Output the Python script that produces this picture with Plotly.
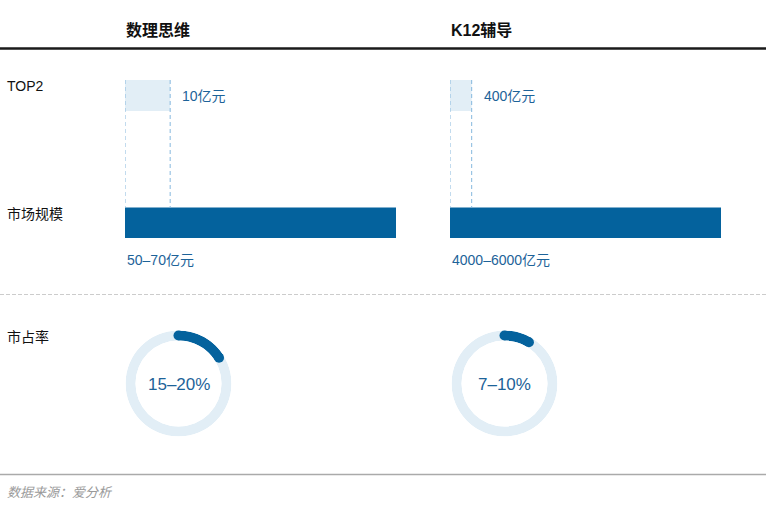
import plotly.graph_objects as go

# ---------------- data ----------------
segments = ["数理思维", "K12辅导"]
row_labels = ["TOP2", "市场规模", "市占率"]
top2_revenue = [10, 400]            # 亿元
market_low = [50, 4000]             # 亿元
market_high = [70, 6000]            # 亿元
share_low = [15, 7]                 # %
share_high = [20, 10]               # %
share_arc = [16, 8.5]               # % drawn on the ring
source_text = "数据来源：爱分析"

# ---------------- style ----------------
W, H = 766, 527
DARK = "#04629d"
LIGHT = "#e2eef6"
TXT_BLUE = "#1d6399"
DASH_BLUE = "#86b8de"
FONT = "Liberation Sans, Noto Sans CJK SC, sans-serif"

col_left = [125, 450]      # px
bar_len = 271              # px of market bar
bar_top, bar_bottom = 80, 238


def px_x(p):
    return p / W


def px_y(p):
    return 1 - p / H


fig = go.Figure()

cat_order = ["TOP2", "市场规模"]
unit = 127.5
r0 = -15.5 / unit
r1 = r0 + (bar_bottom - bar_top) / unit
bw = 31 / unit

annotations = []
shapes = []

for i, seg in enumerate(segments):
    ax = "" if i == 0 else str(i + 1)
    mid = (market_low[i] + market_high[i]) / 2
    fig.add_trace(go.Bar(
        x=[top2_revenue[i], mid], y=cat_order, orientation="h",
        marker=dict(color=[LIGHT, DARK], line=dict(width=0)),
        width=bw, xaxis="x" + ax, yaxis="y" + ax, hoverinfo="skip",
        showlegend=False,
    ))
    fig.update_layout(**{
        "xaxis" + ax: dict(domain=[px_x(col_left[i]), px_x(col_left[i] + bar_len)],
                           range=[0, mid], visible=False, fixedrange=True,
                           anchor="y" + ax),
        "yaxis" + ax: dict(domain=[px_y(bar_bottom), px_y(bar_top)],
                           type="category", categoryarray=cat_order,
                           range=[r1, r0], visible=False, fixedrange=True,
                           anchor="x" + ax),
    })
    # dashed guide lines
    for xv in (0, top2_revenue[i]):
        shapes.append(dict(type="line", xref="x" + ax, yref="y" + ax,
                           x0=xv, x1=xv, y0=r0, y1=1 - bw / 2,
                           line=dict(color=DASH_BLUE, width=1, dash="4px,3px")))
    annotations.append(dict(xref="x" + ax, yref="y" + ax, x=top2_revenue[i], y=0,
                            xshift=10, text=f"{top2_revenue[i]}亿元", showarrow=False,
                            xanchor="left", yanchor="middle",
                            font=dict(size=14, color=TXT_BLUE, family=FONT)))
    annotations.append(dict(xref="x" + ax, yref="y" + ax, x=0, y=1, yshift=-37,
                            text=f"{market_low[i]}–{market_high[i]}亿元",
                            showarrow=False, xanchor="left", yanchor="middle",
                            font=dict(size=14, color=TXT_BLUE, family=FONT)))
    # header
    annotations.append(dict(xref="paper", yref="paper", x=px_x(col_left[i] - 1), y=px_y(30),
                            text=f"<b>{seg}</b>", showarrow=False, xanchor="left",
                            yanchor="middle", font=dict(size=16, color="#111", family=FONT)))

    # donut
    pol = "polar" if i == 0 else "polar2"
    cx = [178.5, 504.5][i]
    cy = 383.5
    R = 53
    fig.add_trace(go.Barpolar(r=[1], base=[0], theta=[180], width=[360],
                              marker=dict(color=LIGHT, line=dict(width=0)),
                              subplot=pol, hoverinfo="skip", showlegend=False))
    arc = share_arc[i] * 3.6
    fig.add_trace(go.Barpolar(r=[1], base=[0], theta=[arc / 2], width=[arc],
                              marker=dict(color=DARK, line=dict(width=0)),
                              subplot=pol, hoverinfo="skip", showlegend=False))
    fig.add_trace(go.Scatterpolar(r=[0.5, 0.5], theta=[0, arc], mode="markers",
                                  marker=dict(color=DARK, size=10, line=dict(width=0)),
                                  subplot=pol, hoverinfo="skip", showlegend=False))
    fig.update_layout(**{
        pol: dict(domain=dict(x=[px_x(cx - R), px_x(cx + R)], y=[px_y(cy + R), px_y(cy - R)]),
                  hole=43 / 53, bgcolor="rgba(0,0,0,0)",
                  radialaxis=dict(range=[0, 1], visible=False),
                  angularaxis=dict(rotation=90, direction="clockwise", visible=False),
                  barmode="overlay"),
    })
    annotations.append(dict(xref="paper", yref="paper", x=px_x(cx), y=px_y(cy + 1),
                            text=f"{share_low[i]}–{share_high[i]}%", showarrow=False,
                            xanchor="center", yanchor="middle",
                            font=dict(size=17, color=TXT_BLUE, family=FONT)))

# row labels
for lab, yy in zip(row_labels, [86, 214, 337]):
    annotations.append(dict(xref="paper", yref="paper", x=px_x(5), y=px_y(yy), text=lab,
                            showarrow=False, xanchor="left", yanchor="middle",
                            font=dict(size=14, color="#111", family=FONT)))

# source
annotations.append(dict(xref="paper", yref="paper", x=px_x(5), y=px_y(492),
                        text=f"<i>{source_text}</i>", showarrow=False, xanchor="left",
                        yanchor="middle", font=dict(size=13, color="#9a9a9a", family=FONT)))

# separators
shapes += [
    dict(type="line", xref="paper", yref="paper", x0=0, x1=1, y0=px_y(48.5), y1=px_y(48.5),
         line=dict(color="#1a1a1a", width=2.5)),
    dict(type="line", xref="paper", yref="paper", x0=0, x1=1, y0=px_y(294.5), y1=px_y(294.5),
         line=dict(color="#cccccc", width=1, dash="4px,2px")),
    dict(type="line", xref="paper", yref="paper", x0=0, x1=1, y0=px_y(474.5), y1=px_y(474.5),
         line=dict(color="#aaaaaa", width=1.5)),
]

fig.update_layout(width=W, height=H, margin=dict(l=0, r=0, t=0, b=0),
                  paper_bgcolor="white", plot_bgcolor="rgba(0,0,0,0)",
                  annotations=annotations, shapes=shapes, showlegend=False,
                  font=dict(family=FONT))

fig.write_html("out.html", config={"displayModeBar": False},
               post_script="document.body.style.margin='0';"
                           "document.body.style.overflow='hidden';")
